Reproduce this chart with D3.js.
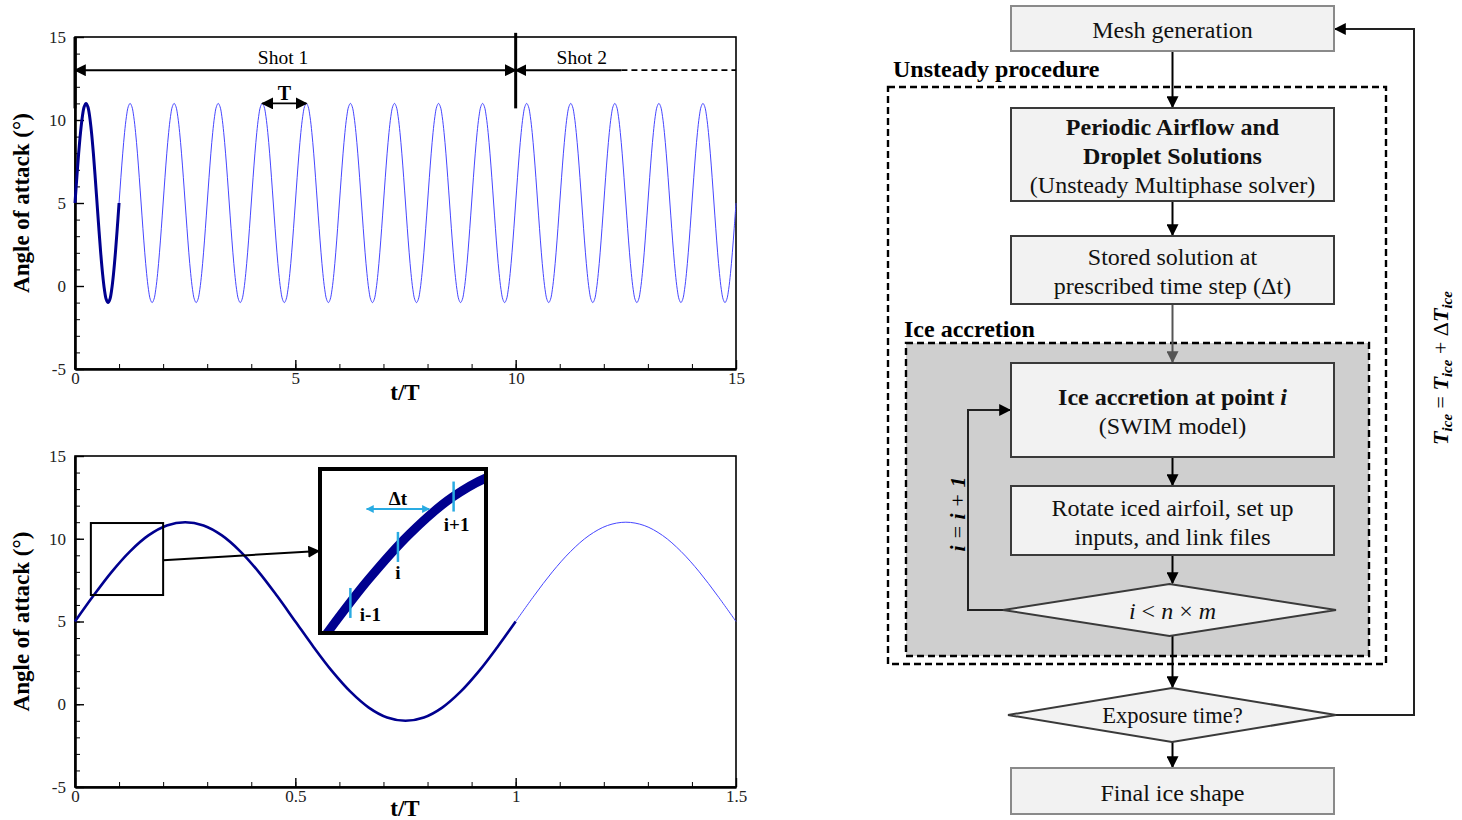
<!DOCTYPE html>
<html>
<head>
<meta charset="utf-8">
<script src="https://cdn.jsdelivr.net/npm/d3@7"></script>
<style>
  body { margin: 0; background: #fff; }
  svg { display: block; font-family: "Liberation Serif", "Times New Roman", serif; }
</style>
</head>
<body>
<svg id="fig" width="1462" height="820"></svg>
<script>
// Pitching airfoil: angle of attack over time, plus the unsteady icing flowchart

// one period of the pitching motion at t/T = 0, 1/24, 2/24 ...
const alphaCycle = [5, 6.55, 8, 9.24, 10.2, 10.8, 11, 10.8, 10.2, 9.24, 8, 6.55,
                    5, 3.45, 2, 0.76, -0.2, -0.8, -1, -0.8, -0.2, 0.76, 2, 3.45];
const perCycle = alphaCycle.length;

const yTicks = [-5, 0, 5, 10, 15];
const topXTicks = [0, 5, 10, 15];
const bottomXTicks = [0, 0.5, 1, 1.5];
const shotBounds = [0, 10, 15];
const shotLabels = ["Shot 1", "Shot 2"];
const stepMarks = [0.066, 0.113, 0.168];      // t/T of stored steps in the zoom
const stepLabels = ["i-1", "i", "i+1"];
const zoomT = [0.036, 0.2], zoomA = [6.6, 10.95];

const darkBlue = "#00008f", lightBlue = "#4646ff", cyan = "#29abe2";

// repeat the read cycle between t0 and t1
function series(t0, t1) {
  const pts = [];
  for (let n = Math.round(t0 * perCycle); n <= Math.round(t1 * perCycle); n++) {
    pts.push({t: n / perCycle, a: alphaCycle[n % perCycle]});
  }
  return pts;
}

const svg = d3.select("#fig");
const defs = svg.append("defs");

function marker(id, color, size) {
  defs.append("marker")
    .attr("id", id)
    .attr("viewBox", "0 0 10 10")
    .attr("refX", 9).attr("refY", 5)
    .attr("markerWidth", size).attr("markerHeight", size)
    .attr("markerUnits", "userSpaceOnUse")
    .attr("orient", "auto-start-reverse")
    .append("path").attr("d", "M0,0L10,5L0,10z").attr("fill", color);
}
marker("ah", "#000", 12);
marker("ahGray", "#555", 12);
marker("ahCyan", cyan, 8);

// ---------- plot frame with inward ticks ----------
function drawPlot(cfg) {
  const x = d3.scaleLinear().domain(cfg.xDomain).range([75, 736]);
  const y = d3.scaleLinear().domain([-5, 15]).range([cfg.bottom, cfg.top]);
  const g = svg.append("g");

  g.append("rect")
    .attr("x", 75).attr("y", cfg.top)
    .attr("width", 661).attr("height", cfg.bottom - cfg.top)
    .attr("fill", "none").attr("stroke", "#000").attr("stroke-width", 1.6);

  // minor ticks
  g.append("g").attr("transform", `translate(0,${cfg.bottom})`)
    .call(d3.axisBottom(x).tickValues(cfg.xMinor).tickSize(-5).tickFormat(""))
    .call(a => a.select(".domain").remove());
  g.append("g").attr("transform", "translate(75,0)")
    .call(d3.axisLeft(y).tickValues(d3.range(-5, 15.1, 1)).tickSize(-5).tickFormat(""))
    .call(a => a.select(".domain").remove());

  // major ticks + labels
  const xa = g.append("g").attr("transform", `translate(0,${cfg.bottom})`)
    .call(d3.axisBottom(x).tickValues(cfg.xTicks).tickSize(-9).tickSizeOuter(0)
      .tickPadding(3).tickFormat(d => String(d)));
  const ya = g.append("g").attr("transform", "translate(75,0)")
    .call(d3.axisLeft(y).tickValues(yTicks).tickSize(-9).tickSizeOuter(0)
      .tickPadding(9).tickFormat(d => String(d)));
  [xa, ya].forEach(a => {
    a.attr("font-family", null).attr("font-size", 17);
    a.select(".domain").attr("stroke-width", 2.6);
    a.selectAll(".tick line").attr("stroke-width", 1.4);
    a.selectAll("text").attr("fill", "#222");
  });
  g.selectAll(".tick line").attr("stroke", "#000");

  g.append("text")
    .attr("transform", `translate(29,${(cfg.top + cfg.bottom) / 2}) rotate(-90)`)
    .attr("text-anchor", "middle")
    .attr("font-size", 23).attr("font-weight", "bold")
    .text("Angle of attack (°)");
  g.append("text")
    .attr("x", 405).attr("y", Math.min(cfg.bottom + 31, 816))
    .attr("text-anchor", "middle")
    .attr("font-size", 23).attr("font-weight", "bold")
    .text("t/T");

  return {x, y, g};
}

// ---------- top plot: 15 periods ----------
const topPlot = drawPlot({xDomain: [0, 15], top: 37, bottom: 369,
  xTicks: topXTicks, xMinor: d3.range(0, 15.01, 1)});
const lineTop = d3.line().x(d => topPlot.x(d.t)).y(d => topPlot.y(d.a)).curve(d3.curveCatmullRom);

topPlot.g.append("path").datum(series(0, 15))
  .attr("d", lineTop).attr("fill", "none")
  .attr("stroke", lightBlue).attr("stroke-width", 1);
topPlot.g.append("path").datum(series(0, 1))
  .attr("d", lineTop).attr("fill", "none")
  .attr("stroke", darkBlue).attr("stroke-width", 3);

// shot annotations
const shotA = 13.0;
topPlot.g.append("line")
  .attr("x1", topPlot.x(shotBounds[0])).attr("x2", topPlot.x(shotBounds[1]))
  .attr("y1", topPlot.y(shotA)).attr("y2", topPlot.y(shotA))
  .attr("stroke", "#000").attr("stroke-width", 2)
  .attr("marker-start", "url(#ah)").attr("marker-end", "url(#ah)");
topPlot.g.append("line")
  .attr("x1", topPlot.x(shotBounds[1])).attr("x2", topPlot.x(12.4))
  .attr("y1", topPlot.y(shotA)).attr("y2", topPlot.y(shotA))
  .attr("stroke", "#000").attr("stroke-width", 2)
  .attr("marker-start", "url(#ah)");
topPlot.g.append("line")
  .attr("x1", topPlot.x(12.4)).attr("x2", topPlot.x(shotBounds[2]))
  .attr("y1", topPlot.y(shotA)).attr("y2", topPlot.y(shotA))
  .attr("stroke", "#000").attr("stroke-width", 1.8).attr("stroke-dasharray", "6,4");
[shotBounds[0], shotBounds[1]].forEach(b => {
  topPlot.g.append("line")
    .attr("x1", topPlot.x(b)).attr("x2", topPlot.x(b))
    .attr("y1", topPlot.y(b === 0 ? 15 : 15.25)).attr("y2", topPlot.y(10.7))
    .attr("stroke", "#000").attr("stroke-width", 3);
});
topPlot.g.selectAll(".shot").data(shotLabels).join("text")
  .attr("x", (d, i) => i === 0 ? topPlot.x(4.72) : topPlot.x(11.5))
  .attr("y", topPlot.y(shotA) - 6)
  .attr("text-anchor", "middle").attr("font-size", 19.5)
  .text(d => d);

// period marker T between two peaks
topPlot.g.append("line")
  .attr("x1", topPlot.x(4.25)).attr("x2", topPlot.x(5.25))
  .attr("y1", topPlot.y(11)).attr("y2", topPlot.y(11))
  .attr("stroke", "#000").attr("stroke-width", 1.8)
  .attr("marker-start", "url(#ah)").attr("marker-end", "url(#ah)");
topPlot.g.append("text")
  .attr("x", topPlot.x(4.75)).attr("y", topPlot.y(11) - 3)
  .attr("text-anchor", "middle").attr("font-size", 20).attr("font-weight", "bold")
  .text("T");

// ---------- bottom plot: 1.5 periods ----------
const botPlot = drawPlot({xDomain: [0, 1.5], top: 456, bottom: 787,
  xTicks: bottomXTicks, xMinor: d3.range(0, 1.501, 0.1)});
const lineBot = d3.line().x(d => botPlot.x(d.t)).y(d => botPlot.y(d.a)).curve(d3.curveCatmullRom);

botPlot.g.append("path").datum(series(1, 1.5))
  .attr("d", lineBot).attr("fill", "none")
  .attr("stroke", lightBlue).attr("stroke-width", 1);
botPlot.g.append("path").datum(series(0, 1))
  .attr("d", lineBot).attr("fill", "none")
  .attr("stroke", darkBlue).attr("stroke-width", 2.6);

// zoom window
botPlot.g.append("rect")
  .attr("x", botPlot.x(zoomT[0])).attr("y", botPlot.y(zoomA[1]))
  .attr("width", botPlot.x(zoomT[1]) - botPlot.x(zoomT[0]))
  .attr("height", botPlot.y(zoomA[0]) - botPlot.y(zoomA[1]))
  .attr("fill", "none").attr("stroke", "#000").attr("stroke-width", 2);

// inset
const inset = {x0: 320, x1: 486, y0: 469, y1: 633};
const xi = d3.scaleLinear().domain(zoomT).range([inset.x0, inset.x1]);
const yi = d3.scaleLinear().domain(zoomA).range([inset.y1, inset.y0]);

botPlot.g.append("line")
  .attr("x1", botPlot.x(zoomT[1])).attr("y1", botPlot.y(8.7))
  .attr("x2", inset.x0 - 1).attr("y2", 551)
  .attr("stroke", "#000").attr("stroke-width", 2)
  .attr("marker-end", "url(#ah)");

defs.append("clipPath").attr("id", "insetClip")
  .append("rect").attr("x", inset.x0).attr("y", inset.y0)
  .attr("width", inset.x1 - inset.x0).attr("height", inset.y1 - inset.y0);

botPlot.g.append("rect")
  .attr("x", inset.x0).attr("y", inset.y0)
  .attr("width", inset.x1 - inset.x0).attr("height", inset.y1 - inset.y0)
  .attr("fill", "#fff");
botPlot.g.append("path").datum(series(0, 0.25))
  .attr("clip-path", "url(#insetClip)")
  .attr("d", d3.line().x(d => xi(d.t)).y(d => yi(d.a)).curve(d3.curveCatmullRom))
  .attr("fill", "none").attr("stroke", darkBlue).attr("stroke-width", 9);
botPlot.g.append("rect")
  .attr("x", inset.x0).attr("y", inset.y0)
  .attr("width", inset.x1 - inset.x0).attr("height", inset.y1 - inset.y0)
  .attr("fill", "none").attr("stroke", "#000").attr("stroke-width", 4);

// stored time-step markers
const aAt = t => {
  const p = t * perCycle, n = Math.floor(p), f = p - n;
  return alphaCycle[n % perCycle] * (1 - f) + alphaCycle[(n + 1) % perCycle] * f;
};
const labelShift = [[20, 18], [0, 32], [3, 34]];
stepMarks.forEach((t, k) => {
  const cy = yi(aAt(t));
  botPlot.g.append("line")
    .attr("x1", xi(t)).attr("x2", xi(t))
    .attr("y1", cy - 15).attr("y2", cy + 15)
    .attr("stroke", cyan).attr("stroke-width", 2.5);
  botPlot.g.append("text")
    .attr("x", xi(t) + labelShift[k][0])
    .attr("y", cy + labelShift[k][1])
    .attr("text-anchor", "middle")
    .attr("font-size", 19).attr("font-weight", "bold")
    .text(stepLabels[k]);
});
botPlot.g.append("line")
  .attr("x1", xi(0.082)).attr("x2", xi(0.144))
  .attr("y1", 509).attr("y2", 509)
  .attr("stroke", cyan).attr("stroke-width", 2)
  .attr("marker-start", "url(#ahCyan)").attr("marker-end", "url(#ahCyan)");
botPlot.g.append("text")
  .attr("x", xi(0.113)).attr("y", 505)
  .attr("text-anchor", "middle").attr("font-size", 19).attr("font-weight", "bold")
  .text("Δt");

// ---------- flowchart ----------
const flowText = {
  mesh: [[{t: "Mesh generation"}]],
  periodic: [[{t: "Periodic Airflow and", b: 1}], [{t: "Droplet Solutions", b: 1}],
             [{t: "(Unsteady Multiphase solver)"}]],
  stored: [[{t: "Stored solution at"}], [{t: "prescribed time step (Δt)"}]],
  ice: [[{t: "Ice accretion at point ", b: 1}, {t: "i", b: 1, i: 1}], [{t: "(SWIM model)"}]],
  rotate: [[{t: "Rotate iced airfoil, set up"}], [{t: "inputs, and link files"}]],
  check: [[{t: "i", i: 1}, {t: " < "}, {t: "n", i: 1}, {t: " × "}, {t: "m", i: 1}]],
  exposure: [[{t: "Exposure time?"}]],
  final: [[{t: "Final ice shape"}]]
};

const fl = {left: 1011, right: 1334, cx: 1172.5};
const flowLayout = [
  {id: "mesh", shape: "rect", y: 6, h: 45, stroke: "#8a8a8a", fs: 24},
  {id: "periodic", shape: "rect", y: 108, h: 93, stroke: "#3a3a3a", fs: 24},
  {id: "stored", shape: "rect", y: 236, h: 68, stroke: "#3a3a3a", fs: 24},
  {id: "ice", shape: "rect", y: 363, h: 94, stroke: "#3a3a3a", fs: 24},
  {id: "rotate", shape: "rect", y: 486, h: 69, stroke: "#3a3a3a", fs: 24},
  {id: "check", shape: "diamond", y: 584, h: 52, x0: 1003, x1: 1336, stroke: "#3a3a3a", fs: 24},
  {id: "exposure", shape: "diamond", y: 688, h: 54, x0: 1008, x1: 1336, stroke: "#3a3a3a", fs: 22.5},
  {id: "final", shape: "rect", y: 768, h: 46, stroke: "#8a8a8a", fs: 24}
];

const fg = svg.append("g");

// dashed groups
fg.append("rect").attr("x", 888).attr("y", 87).attr("width", 498).attr("height", 577)
  .attr("fill", "none").attr("stroke", "#000").attr("stroke-width", 2.4)
  .attr("stroke-dasharray", "7,4");
fg.append("rect").attr("x", 906).attr("y", 343).attr("width", 463).attr("height", 313)
  .attr("fill", "#cfcfcf").attr("stroke", "#000").attr("stroke-width", 2.4)
  .attr("stroke-dasharray", "7,4");
fg.append("text").attr("x", 893).attr("y", 77)
  .attr("font-size", 24).attr("font-weight", "bold").text("Unsteady procedure");
fg.append("text").attr("x", 904).attr("y", 337)
  .attr("font-size", 24).attr("font-weight", "bold").text("Ice accretion");

// connectors
const links = [
  [51, 107, "#000"], [201, 235, "#000"], [304, 362, "#555"], [457, 485, "#000"],
  [555, 583, "#000"], [636, 687, "#000"], [742, 767, "#000"]
];
links.forEach(([y1, y2, c]) => {
  fg.append("line").attr("x1", fl.cx).attr("x2", fl.cx).attr("y1", y1).attr("y2", y2)
    .attr("stroke", c).attr("stroke-width", 2)
    .attr("marker-end", c === "#000" ? "url(#ah)" : "url(#ahGray)");
});
fg.append("polyline").attr("points", "1003,610 968,610 968,410 1010,410")
  .attr("fill", "none").attr("stroke", "#222").attr("stroke-width", 2)
  .attr("marker-end", "url(#ah)");
fg.append("polyline").attr("points", "1336,715 1414,715 1414,29 1335,29")
  .attr("fill", "none").attr("stroke", "#222").attr("stroke-width", 2)
  .attr("marker-end", "url(#ah)");

// nodes
flowLayout.forEach(n => {
  if (n.shape === "rect") {
    fg.append("rect").attr("x", fl.left).attr("y", n.y)
      .attr("width", fl.right - fl.left).attr("height", n.h)
      .attr("fill", "#f2f2f2").attr("stroke", n.stroke).attr("stroke-width", 2);
  } else {
    const cx = (n.x0 + n.x1) / 2, cy = n.y + n.h / 2;
    fg.append("polygon")
      .attr("points", `${n.x0},${cy} ${cx},${n.y} ${n.x1},${cy} ${cx},${n.y + n.h}`)
      .attr("fill", "#f2f2f2").attr("stroke", n.stroke).attr("stroke-width", 2);
  }
  const lines = flowText[n.id];
  const cy = n.y + n.h / 2 + (n.shape === "rect" ? 1.5 : 0.5);
  lines.forEach((segs, i) => {
    const t = fg.append("text")
      .attr("x", fl.cx).attr("y", cy + (i - (lines.length - 1) / 2) * 29 + n.fs / 3)
      .attr("text-anchor", "middle").attr("font-size", n.fs).attr("fill", "#111");
    segs.forEach(s => t.append("tspan").text(s.t)
      .attr("font-weight", s.b ? "bold" : "normal")
      .attr("font-style", s.i ? "italic" : "normal"));
  });
});

// loop label and exposure-time update
const loopLabel = fg.append("text")
  .attr("transform", "translate(965,514) rotate(-90)")
  .attr("text-anchor", "middle").attr("font-size", 22).attr("font-style", "italic");
[["i", "bold"], [" = ", "normal"], ["i", "bold"], [" + ", "normal"], ["1", "bold"]]
  .forEach(([s, w]) => loopLabel.append("tspan").text(s).attr("font-weight", w));

const tLabel = fg.append("text")
  .attr("transform", "translate(1448,368) rotate(-90)")
  .attr("text-anchor", "middle").attr("font-size", 22);
[["T", "b"], ["ice", "s"], [" = ", "n"], ["T", "b"], ["ice", "s"], [" + Δ", "n"], ["T", "b"], ["ice", "s"]]
  .forEach(([s, k]) => {
    const sp = tLabel.append("tspan").text(s);
    if (k !== "n") sp.attr("font-weight", "bold").attr("font-style", "italic");
    if (k === "s") sp.attr("font-size", 15).attr("baseline-shift", "-25%");
  });
</script>
</body>
</html>
